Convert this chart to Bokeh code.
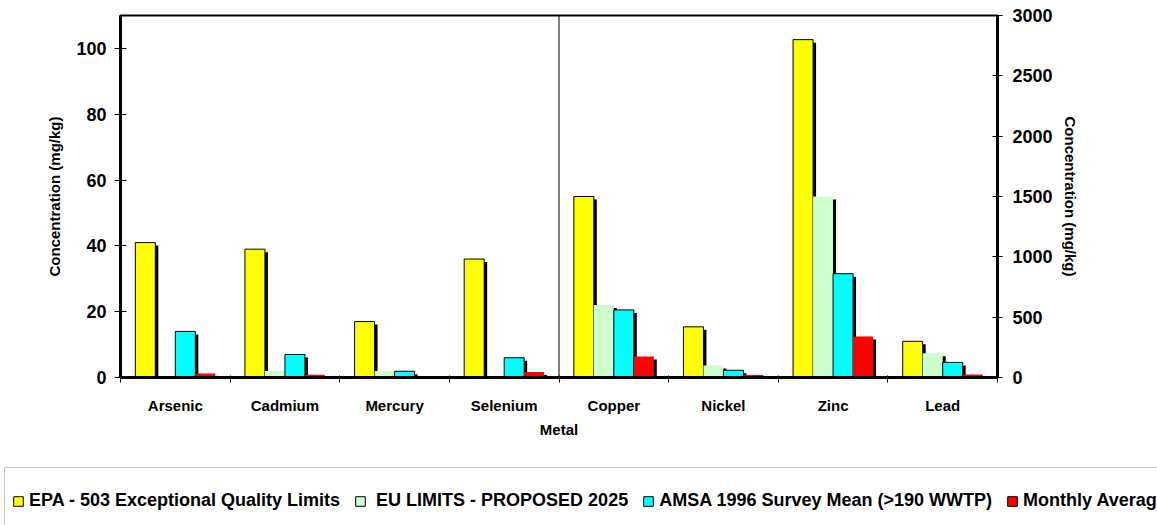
from bokeh.plotting import figure
from bokeh.layouts import column
from bokeh.models import (ColumnDataSource, Range1d, LinearAxis, FixedTicker,
                          Span, Legend, LegendItem, BoxAnnotation)
from bokeh.embed import file_html
from bokeh.resources import INLINE

# ---- data -------------------------------------------------------------
metals = ["Arsenic", "Cadmium", "Mercury", "Selenium",
          "Copper", "Nickel", "Zinc", "Lead"]
# first four metals are read on the left axis, the rest on the right axis
n_left = 4

epa = [41, 39, 17, 36, 1500, 420, 2800, 300]
eu = [float("nan"), 2, 2, float("nan"), 600, 100, 1500, 200]
amsa = [14, 7, 1.9, 6, 560, 60, 860, 125]
monthly = [1.2, 0.8, 0.4, 1.7, 175, 20, 340, 25]

series_names = ["EPA - 503 Exceptional Quality Limits",
                " EU LIMITS - PROPOSED 2025",
                "AMSA 1996 Survey Mean (>190 WWTP)",
                "Monthly Average"]
series_values = [epa, eu, amsa, monthly]
series_colors = ["#FFFF00", "#CCFFCC", "#00FFFF", "#FF0000"]
series_outline = ["#000000", None, "#000000", None]

left_ticks = [0, 20, 40, 60, 80, 100]
right_ticks = [0, 500, 1000, 1500, 2000, 2500, 3000]
left_max = 110
right_max = 3000

# ---- styling constants -------------------------------------------------
FONT = "Liberation Sans"
W = 1157
H_CHART, H_LEGEND = 440, 85
BORDER_L, BORDER_R, BORDER_T, BORDER_B = 120, 160, 15, 63
FRAME_W = W - BORDER_L - BORDER_R
FRAME_H = H_CHART - BORDER_T - BORDER_B
BAR_W = 20 / (FRAME_W / len(metals))          # 20 px bars
SHADOW_PX = 3
shadow_dx = SHADOW_PX / (FRAME_W / len(metals))
shadow_dy = {"default": SHADOW_PX * left_max / FRAME_H,
             "right": SHADOW_PX * right_max / FRAME_H}

p = figure(width=W, height=H_CHART, output_backend="svg", toolbar_location=None,
           x_range=Range1d(0, len(metals)), y_range=Range1d(0, left_max),
           x_axis_type=None, y_axis_type=None,
           min_border_left=BORDER_L, min_border_right=BORDER_R,
           min_border_top=BORDER_T, min_border_bottom=BORDER_B)
p.frame_align = False
p.extra_y_ranges = {"right": Range1d(0, right_max)}
p.outline_line_color = "black"
p.outline_line_width = 2
p.background_fill_color = "white"
p.border_fill_color = "white"

groups = [("default", range(0, n_left)), ("right", range(n_left, len(metals)))]

# shadows first so every bar sits on top of them
for k, vals in enumerate(series_values):
    for rng_name, idx in groups:
        dy = shadow_dy[rng_name]
        xs = [i + 0.5 + (k - 1.5) * BAR_W + shadow_dx for i in idx]
        tops = [vals[i] - dy for i in idx]
        src = ColumnDataSource(dict(x=xs, top=tops))
        p.vbar(x="x", top="top", bottom=0, width=BAR_W, source=src,
               y_range_name=rng_name, fill_color="black", line_color=None)

for k, vals in enumerate(series_values):
    for rng_name, idx in groups:
        xs = [i + 0.5 + (k - 1.5) * BAR_W for i in idx]
        tops = [vals[i] for i in idx]
        src = ColumnDataSource(dict(x=xs, top=tops))
        p.vbar(x="x", top="top", bottom=0, width=BAR_W, source=src,
               y_range_name=rng_name, fill_color=series_colors[k],
               line_color=series_outline[k], line_width=1)

# divider between the two axis groups
p.add_layout(Span(location=n_left, dimension="height",
                  line_color="black", line_width=1))

# ---- axes ---------------------------------------------------------------
def style_axis(ax, tick_size):
    ax.axis_line_color = "black"
    ax.axis_line_width = 3
    ax.major_tick_line_color = "black"
    ax.major_tick_line_width = 1
    ax.minor_tick_line_color = "black"
    ax.minor_tick_line_width = 1
    ax.major_label_text_font = FONT
    ax.major_label_text_font_style = "bold"
    ax.major_label_text_font_size = tick_size
    ax.major_label_text_color = "black"
    ax.axis_label_text_font = FONT
    ax.axis_label_text_font_style = "bold"
    ax.axis_label_text_font_size = "15px"
    ax.axis_label_text_color = "black"

yl = LinearAxis(ticker=FixedTicker(ticks=left_ticks),
                axis_label="Concentration (mg/kg)")
style_axis(yl, "18px")
yl.major_tick_in = 6
yl.major_tick_out = 6
yl.major_label_standoff = 8
yl.axis_label_standoff = 10
p.add_layout(yl, "left")

yr = LinearAxis(y_range_name="right", ticker=FixedTicker(ticks=right_ticks),
                axis_label="Concentration (mg/kg)")
style_axis(yr, "18px")
yr.major_tick_in = 5
yr.major_tick_out = 5
yr.major_label_standoff = 10
yr.axis_label_standoff = 6
p.add_layout(yr, "right")

centers = [i + 0.5 for i in range(len(metals))]
xa = LinearAxis(ticker=FixedTicker(ticks=centers,
                                   minor_ticks=list(range(len(metals) + 1))),
                axis_label="Metal",
                major_label_overrides={c: m for c, m in zip(centers, metals)})
style_axis(xa, "15px")
xa.major_tick_in = 0
xa.major_tick_out = 0
xa.minor_tick_in = 2
xa.minor_tick_out = 5
xa.major_label_standoff = 14
xa.axis_label_standoff = 4
p.add_layout(xa, "below")

# ---- legend strip ---------------------------------------------------------
pl = figure(width=W, height=H_LEGEND, output_backend="svg", toolbar_location=None,
            x_range=Range1d(0, len(metals)), y_range=Range1d(0, left_max),
            x_axis_type=None, y_axis_type=None,
            min_border_left=0, min_border_right=0,
            min_border_top=0, min_border_bottom=0)
pl.frame_align = False
pl.outline_line_color = None
pl.background_fill_color = "white"
pl.border_fill_color = "white"

# frame around the legend; it runs past the right and bottom edges
pl.add_layout(BoxAnnotation(left=4, right=W + 400, top=27, bottom=H_LEGEND + 100,
                            left_units="canvas", right_units="canvas",
                            top_units="canvas", bottom_units="canvas",
                            fill_alpha=0, line_color="#404040", line_width=1))

# hidden swatch renderers: outlined boxes for every series key
swatches = []
for k, vals in enumerate(series_values):
    src = ColumnDataSource(dict(x=centers, top=vals))
    r = pl.vbar(x="x", top="top", bottom=0, width=BAR_W, source=src,
                fill_color=series_colors[k], line_color="black", line_width=1,
                visible=False)
    swatches.append(r)

legend = Legend(items=[LegendItem(label=n, renderers=[r])
                       for n, r in zip(series_names, swatches)],
                orientation="horizontal", location=(12, 14),
                label_text_font=FONT, label_text_font_style="bold",
                label_text_font_size="18px", label_text_color="black",
                glyph_width=12, glyph_height=12, label_standoff=5,
                spacing=14, padding=0, margin=0,
                inactive_fill_alpha=0.0,
                border_line_color=None, background_fill_alpha=0.0)
pl.add_layout(legend, "center")

open("out.html", "w").write(file_html(column(p, pl, spacing=0), INLINE))
